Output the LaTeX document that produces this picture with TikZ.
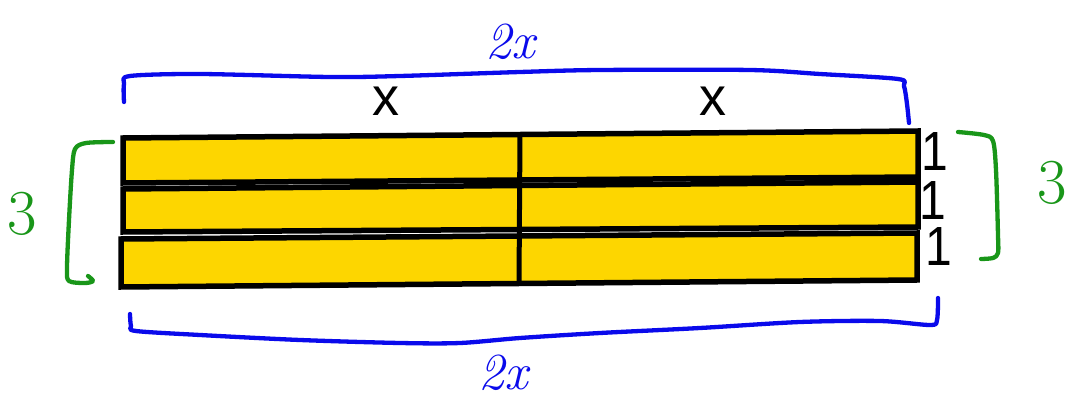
\documentclass[tikz,border=0pt]{standalone}
\usepackage{fontspec}
\newfontfamily\armfont{Liberation Sans}
\definecolor{gold}{RGB}{253,214,0}
\definecolor{penblue}{RGB}{10,10,235}
\definecolor{pengreen}{RGB}{25,150,25}
\begin{document}
\begin{tikzpicture}[x=1pt,y=-1pt,
  strip/.style={fill=gold,draw=black,line width=5.5pt,line join=miter},
  bluepen/.style={draw=penblue,line width=4.3pt,line cap=round,line join=round},
  greenpen/.style={draw=pengreen,line width=4.3pt,line cap=round,line join=round},
  lab/.style={font=\armfont\fontsize{54}{56}\selectfont,inner sep=0pt},
  one/.style={font=\armfont\fontsize{48}{50}\selectfont,inner sep=0pt,yscale=1.15},
  hand/.style={inner sep=0pt,font=\fontsize{52}{54}\selectfont\itshape},
  handg/.style={inner sep=0pt,text=pengreen,font=\fontsize{64}{66}\selectfont}]
\useasboundingbox (0,0) rectangle (1072,398);
% strips
\draw[strip] (123,138) -- (918,131) -- (918,177) -- (123,183) -- cycle;
\draw[strip] (123,189) -- (918,182) -- (918,227) -- (123,232) -- cycle;
\draw[strip] (121,239) -- (917,233) -- (917,280) -- (121,287) -- cycle;
\draw[line width=5pt] (520,134) -- (519,284);
% labels
\node[lab] (xa) at (386,101) {x};
\node[lab] (xb) at (713,101) {x};
\node[one] (o1) at (935,152) {1};
\node[one] (o2) at (933,201) {1};
\node[one] (o3) at (939,247) {1};
% blue braces
\draw[bluepen] plot[smooth,tension=0.5] coordinates {(124,102) (124,84) (130,76) (200,74) (330,77) (400,76) (520,72) (600,70) (750,70) (820,74) (898,79) (904,86) (907,104) (909,123)};
\draw[bluepen] plot[smooth,tension=0.5] coordinates {(130,314) (131,326) (136,331) (200,335) (300,340) (400,343) (460,343) (520,338) (600,333) (700,328) (800,322) (880,321) (930,325) (937,320) (938,298)};
\node[hand,text=penblue] (t2x) at (510,42) {2x};
\node[hand,text=penblue] (b2x) at (503,373) {2x};
% green brackets
\draw[greenpen] plot[smooth,tension=0.5] coordinates {(113,142) (86,143) (75,149) (72,170) (69,220) (67,268) (69,281) (85,283) (93,281) (88,276)};
\draw[greenpen] plot[smooth,tension=0.5] coordinates {(958,132) (984,135) (993,141) (996,170) (998,235) (998,253) (993,258) (981,259)};
\node[handg] (g3l) at (22,214) {3};
\node[handg] (g3r) at (1052,183) {3};
\end{tikzpicture}
\end{document}
